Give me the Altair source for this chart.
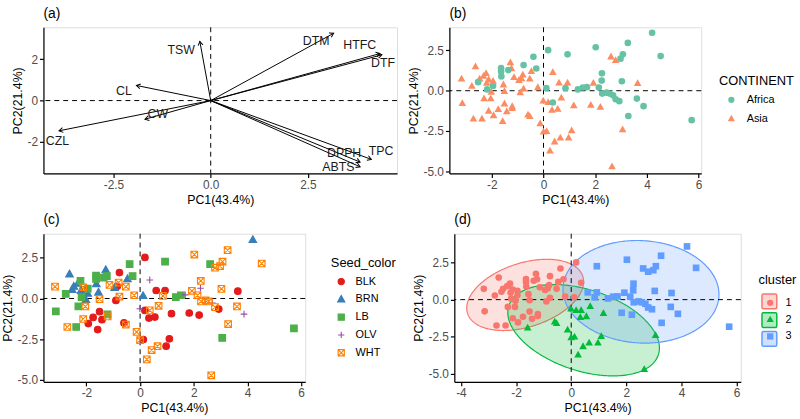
import math
import numpy as np
import pandas as pd
import altair as alt

FONT = "Liberation Sans"
X_TITLE = "PC1(43.4%)"
Y_TITLE = "PC2(21.4%)"

# ---------------- (a) variable loadings ----------------
var_names = ["TSW", "DTM", "HTFC", "DTF", "CL", "CW", "CZL", "TPC", "DPPH", "ABTS"]
var_pc1 = [-0.28, 3.16, 4.35, 4.40, -1.91, -1.69, -3.90, 4.13, 3.84, 3.84]
var_pc2 = [2.86, 3.25, 2.27, 2.21, 0.73, -0.90, -1.46, -2.84, -2.97, -3.20]
lab_pc1 = [-0.76, 2.71, 3.83, 4.43, -2.23, -1.36, -3.94, 4.38, 3.43, 3.28]
lab_pc2 = [2.46, 2.86, 2.67, 1.79, 0.44, -0.63, -1.94, -2.46, -2.54, -3.20]

# ---------------- individual scores ----------------
score_pc1 = [
    0.18, -0.77, -0.85, -0.90, 0.60, 0.93, 3.64, 0.18, 0.33, 0.55, 1.17, 1.83, 2.20, 2.93,
    -1.51, -1.75, -1.42, -1.93, -1.58, -0.60, 0.12, 1.09, 0.97,
    -2.63, -1.28, -0.47, -2.32, -2.47, -2.20, -2.53, -1.55, -2.02, 0.11, 4.20, -0.95, -1.63, -1.95,
    -0.39, 0.93, 2.61, -0.28, -1.24, -1.36, -1.64, -1.64, -2.22, -2.77, -2.18, -2.30, -3.14,
    -2.38, -1.21, 1.33, 1.52, 3.06, 5.73, -1.95,
    0.36, 2.25, 1.68, 2.69, 3.87, -0.01,
    -3.17, -2.71, -2.12, -2.04, -2.12, -1.14, -0.80, -0.53, -0.77, -1.51, -1.21, -0.53, -0.13,
    0.00, -0.22, 0.36, 0.69, 0.85, 0.65, 0.43, 0.25, 2.02, 3.26, 3.07, 2.98, 2.79, 4.53, 2.26,
    1.93, 2.14, 2.27, 2.44, 2.56, 2.79, 3.03, 3.61, 3.28, 2.65,
]
score_pc2 = [
    2.52, 1.59, 0.75, -0.12, 0.49, 0.49, 0.45, -0.73, -1.20, -1.14, -0.93, -0.89, -1.02, -0.65,
    -0.81, -1.16, -1.30, -1.54, -1.91, -1.50, -2.52, -2.48, -2.93,
    1.49, 1.75, 1.20, 0.91, 0.73, 0.47, 0.53, 0.37, -0.08, 0.16, 3.60, 0.65, 0.89, 0.30,
    2.11, 2.26, 2.11, 1.38, 1.38, 1.28, 1.40, 1.20, 1.08, 0.28, 0.08, -0.49, -0.79,
    -1.75, -0.98, 0.08, 0.20, -2.42, -1.83, 0.60,
    1.14, 0.63, 0.22, -0.28, -0.96, -0.63,
    0.73, -1.75, -1.26, -0.49, 0.69, 0.83, 0.98, 0.73, 0.12, -0.04, -1.10, -1.60, -2.05,
    -2.56, 0.20, -0.73, -0.45, 0.16, -2.93, -3.17, -3.74, 2.70, 2.97, 2.26, 1.99, 1.89, 2.15, 1.08,
    0.47, 0.20, -0.18, -0.12, -0.18, -0.53, 0.59, -0.49, -1.57, -4.72,
]
score_seed = (["BLK"] * 23 + ["BRN"] * 14 + ["LB"] * 20 + ["OLV"] * 6 + ["WHT"] * 38)
score_continent = [
    "Africa", "Africa", "Asia", "Asia", "Asia", "Asia", "Asia", "Asia", "Asia", "Asia", "Asia", "Asia", "Asia", "Africa",
    "Asia", "Asia", "Asia", "Asia", "Asia", "Asia", "Asia", "Asia", "Asia",
    "Asia", "Asia", "Asia", "Asia", "Asia", "Asia", "Africa", "Asia", "Asia", "Africa", "Africa", "Asia", "Africa", "Africa",
    "Africa", "Africa", "Asia", "Africa", "Asia", "Africa", "Africa", "Africa", "Asia", "Asia", "Africa", "Asia", "Asia",
    "Asia", "Asia", "Africa", "Africa", "Asia", "Africa", "Asia",
    "Asia", "Africa", "Africa", "Africa", "Africa", "Asia",
    "Asia", "Asia", "Asia", "Asia", "Asia", "Asia", "Asia", "Asia", "Asia", "Asia", "Asia", "Asia", "Asia",
    "Asia", "Asia", "Africa", "Asia", "Africa", "Asia", "Asia", "Asia", "Africa", "Africa", "Africa", "Africa", "Asia", "Africa", "Africa",
    "Asia", "Africa", "Africa", "Africa", "Africa", "Africa", "Africa", "Africa", "Africa", "Asia",
]
score_cluster = [
    "1", "1", "1", "1", "3", "3", "3", "2", "2", "2", "2", "3", "3", "3",
    "1", "1", "1", "1", "2", "2", "2", "2", "2",
    "1", "1", "1", "1", "1", "1", "1", "1", "1", "1", "3", "1", "1", "1",
    "1", "3", "3", "1", "1", "1", "1", "1", "1", "1", "1", "1", "1",
    "1", "1", "3", "3", "2", "3", "1",
    "1", "3", "3", "3", "3", "2",
    "1", "1", "1", "1", "1", "1", "1", "1", "1", "1", "1", "2", "2",
    "2", "1", "2", "2", "3", "2", "2", "2", "3", "3", "3", "3", "3", "3", "3",
    "3", "3", "3", "3", "3", "3", "3", "3", "3", "2",
]

# ---------------- (d) cluster ellipses ----------------
ell_cluster = ["1", "2", "3"]
ell_key = ["ellipse 1", "ellipse 2", "ellipse 3"]
ell_cx = [-1.67, 0.45, 2.53]
ell_cy = [0.32, -2.07, 0.53]
ell_hx = [2.12, 2.75, 2.83]
ell_hy = [2.41, 3.09, 3.47]
ell_cxy = [1.89, -3.30, -0.50]

continent_levels = ["Africa", "Asia"]
continent_colors = ["#66C2A5", "#FC8D62"]
seed_levels = ["BLK", "BRN", "LB", "OLV", "WHT"]
seed_colors = ["#E41A1C", "#377EB8", "#4DAF4A", "#984EA3", "#FF7F00"]
cluster_colors = ["#F8766D", "#00BA38", "#619CFF"]
cluster_key_fill = ["#FED6D3", "#B3EAC3", "#D0E1FF"]

PLUS = "M-1,0H1M0,-1V1"
BOXX = "M-1,-1H1V1H-1ZM-1,-1L1,1M-1,1L1,-1"
TRI = "M0,-1.25L1.15,0.8L-1.15,0.8Z"

# ---------------- data frames ----------------
scores = pd.DataFrame({
    "pc1": score_pc1, "pc2": score_pc2, "seed": score_seed,
    "continent": score_continent, "cluster": score_cluster,
})

A_W, A_H = 358, 148
A_X = [-4.30, 4.79]
A_Y = [-3.52, 3.54]
px_x = A_W / (A_X[1] - A_X[0])
px_y = A_H / (A_Y[1] - A_Y[0])
angles = [math.degrees(math.atan2(x * px_x, y * px_y)) % 360 for x, y in zip(var_pc1, var_pc2)]
loadings = pd.DataFrame({
    "var": var_names, "pc1": var_pc1, "pc2": var_pc2,
    "lx": lab_pc1, "ly": lab_pc2, "angle": angles, "origin": 0.0,
})

area_rows, line_rows = [], []
for c, key, cx, cy, hx, hy, cxy in zip(ell_cluster, ell_key, ell_cx, ell_cy, ell_hx, ell_hy, ell_cxy):
    slope = cxy / hx
    k = math.sqrt(hy ** 2 - slope ** 2)
    for t in np.linspace(0, np.pi, 181):
        area_rows.append({
            "cluster_e": c, "key": key,
            "ex": cx + hx * math.cos(t),
            "yu": cy + slope * math.cos(t) + k * math.sin(t),
            "yl": cy + slope * math.cos(t) - k * math.sin(t),
        })
    for i, t in enumerate(np.linspace(0, 2 * np.pi, 301)):
        line_rows.append({
            "cluster_e": c, "i": i,
            "ex": cx + hx * math.cos(t),
            "ey": cy + slope * math.cos(t) + k * math.sin(t),
        })
ell_area = pd.DataFrame(area_rows)
ell_line = pd.DataFrame(line_rows)

one = pd.DataFrame({"z": [0]})


def lab_expr(fmt):
    return "replace(format(datum.value, '" + fmt + "'), '\u2212', '-')"


def make_axis(title, values, fmt):
    return alt.Axis(
        title=title, values=values, labelExpr=lab_expr(fmt), grid=False,
        domainColor="black", domainWidth=1.2, tickColor="black", tickWidth=1.2, tickSize=4,
        labelColor="#4D4D4D", labelFontSize=12, labelFont=FONT, labelPadding=2,
        titleFont=FONT, titleFontSize=12.5, titleFontWeight="normal", titleColor="black",
        titlePadding=3,
    )


def xenc(field, dom, values, fmt):
    return alt.X(field, type="quantitative",
                 scale=alt.Scale(domain=dom, nice=False, zero=False),
                 axis=make_axis(X_TITLE, values, fmt))


def yenc(field, dom, values, fmt):
    return alt.Y(field, type="quantitative",
                 scale=alt.Scale(domain=dom, nice=False, zero=False),
                 axis=make_axis(Y_TITLE, values, fmt))


def zero_lines():
    h = alt.Chart(one).mark_rule(color="black", strokeDash=[5, 4], strokeWidth=1).encode(y=alt.datum(0))
    v = alt.Chart(one).mark_rule(color="black", strokeDash=[5, 4], strokeWidth=1).encode(x=alt.datum(0))
    return [h, v]


def ptitle(s):
    return alt.TitleParams(s, anchor="start", frame="group", fontSize=14, fontWeight="normal",
                           font=FONT, color="black", offset=6)


def legend(title, lx, ly, **kw):
    base = dict(title=title, orient="none", legendX=lx, legendY=ly, padding=0,
                titleFont=FONT, titleFontSize=13, titleFontWeight="normal", titleColor="black",
                labelFont=FONT, labelFontSize=11, labelColor="black")
    base.update(kw)
    return alt.Legend(**base)


INDEP = dict(color="independent", shape="independent", fill="independent", stroke="independent")
PT_SIZE = 45

# ---------------- panel (a) ----------------
ax_vals = [-2.5, 0.0, 2.5]
ay_vals = [-2, 0, 2]
arrows = alt.Chart(loadings).mark_rule(color="black", strokeWidth=1).encode(
    x=xenc("origin", A_X, ax_vals, ".1f"), y=yenc("origin", A_Y, ay_vals, "d"),
    x2="pc1:Q", y2="pc2:Q",
)
heads = alt.Chart(loadings).mark_point(
    shape="M-0.6,1L0,0L0.6,1", filled=False, size=64, color="black", strokeWidth=1, opacity=1
).encode(
    x=xenc("pc1", A_X, ax_vals, ".1f"), y=yenc("pc2", A_Y, ay_vals, "d"),
    angle=alt.Angle("angle:Q", scale=None),
)
labels = alt.Chart(loadings).mark_text(font=FONT, fontSize=12.5, color="#1A1A1A").encode(
    x=xenc("lx", A_X, ax_vals, ".1f"), y=yenc("ly", A_Y, ay_vals, "d"), text="var:N",
)
panel_a = alt.layer(*zero_lines(), arrows, heads, labels).properties(
    width=A_W, height=A_H, title=ptitle("(a)"))

# ---------------- panel (b) ----------------
B_X = [-3.64, 6.10]
B_Y = [-5.14, 3.94]
bx_vals = [-2, 0, 2, 4, 6]
by_vals = [-5.0, -2.5, 0.0, 2.5]
leg_b = legend("CONTINENT", 273, 48, symbolSize=40, symbolOffset=7, labelOffset=10,
               rowPadding=7, titlePadding=7)
pts_b = alt.Chart(scores).mark_point(filled=True, size=PT_SIZE, opacity=1).encode(
    x=xenc("pc1", B_X, bx_vals, "d"), y=yenc("pc2", B_Y, by_vals, ".1f"),
    color=alt.Color("continent:N", scale=alt.Scale(domain=continent_levels, range=continent_colors), legend=leg_b),
    shape=alt.Shape("continent:N", scale=alt.Scale(domain=continent_levels, range=["circle", TRI]), legend=leg_b),
)
panel_b = alt.layer(*zero_lines(), pts_b).properties(width=255, height=148, title=ptitle("(b)"))

# ---------------- panel (c) ----------------
C_X = [-3.60, 6.15]
C_Y = [-5.12, 3.98]
leg_c = legend("Seed_color", 291, 24, symbolSize=40, symbolOffset=5, labelOffset=9,
               rowPadding=6, titlePadding=6, symbolStrokeWidth=1.1)
pts_c = alt.Chart(scores).mark_point(filled=False, size=PT_SIZE, opacity=1, strokeWidth=1.1).encode(
    x=xenc("pc1", C_X, bx_vals, "d"), y=yenc("pc2", C_Y, by_vals, ".1f"),
    fill=alt.Fill("seed:N", scale=alt.Scale(domain=seed_levels, range=seed_colors[:3] + ["transparent", "transparent"]), legend=leg_c),
    stroke=alt.Stroke("seed:N", scale=alt.Scale(domain=seed_levels, range=seed_colors), legend=leg_c),
    shape=alt.Shape("seed:N", scale=alt.Scale(domain=seed_levels, range=["circle", TRI, "square", PLUS, BOXX]), legend=leg_c),
)
panel_c = alt.layer(*zero_lines(), pts_c).properties(width=265, height=150, title=ptitle("(c)"))

# ---------------- panel (d) ----------------
D_X = [-4.24, 6.15]
D_Y = [-5.56, 4.46]
dx_vals = [-4, -2, 0, 2, 4, 6]
ROUND_SQ = "M-0.8,-1H0.8Q1,-1 1,-0.8V0.8Q1,1 0.8,1H-0.8Q-1,1 -1,0.8V-0.8Q-1,-1 -0.8,-1Z"
leg_box = legend("cluster", 308, 41, symbolSize=225, symbolType=ROUND_SQ, symbolOffset=2.5,
                 labelOffset=8, rowPadding=-4.5, titlePadding=6, labelExpr="''",
                 symbolStrokeWidth=1.5, zindex=1)
leg_pts = legend(" ", 308, 41, symbolSize=40, symbolOffset=6.3, labelOffset=10,
                 rowPadding=5, titlePadding=10.5, zindex=2)

ell_layers = []
for c, col in zip(ell_cluster, cluster_colors):
    ell_layers.append(
        alt.Chart(ell_area).transform_filter(alt.datum.cluster_e == c).mark_area(
            color=col, fillOpacity=0.22).encode(
            x=xenc("ex", D_X, dx_vals, "d"), y=yenc("yu", D_Y, by_vals, ".1f"), y2="yl:Q")
    )
    ell_layers.append(
        alt.Chart(ell_line).transform_filter(alt.datum.cluster_e == c).mark_line(
            color=col, strokeWidth=1.2).encode(
            x=xenc("ex", D_X, dx_vals, "d"), y=yenc("ey", D_Y, by_vals, ".1f"), order="i:Q")
    )
ell_key_layer = alt.Chart(ell_area).transform_filter("false").mark_area().encode(
    x=xenc("ex", D_X, dx_vals, "d"), y=yenc("yu", D_Y, by_vals, ".1f"), y2="yl:Q",
    fill=alt.Fill("key:N", scale=alt.Scale(domain=ell_key, range=cluster_key_fill), legend=leg_box),
    stroke=alt.Stroke("key:N", scale=alt.Scale(domain=ell_key, range=cluster_colors), legend=leg_box),
)
pts_d = alt.Chart(scores).mark_point(filled=True, size=PT_SIZE, opacity=1).encode(
    x=xenc("pc1", D_X, dx_vals, "d"), y=yenc("pc2", D_Y, by_vals, ".1f"),
    color=alt.Color("cluster:N", scale=alt.Scale(domain=ell_cluster, range=cluster_colors), legend=leg_pts),
    shape=alt.Shape("cluster:N", scale=alt.Scale(domain=ell_cluster, range=["circle", TRI, "square"]), legend=leg_pts),
)
panel_d = alt.layer(*ell_layers, ell_key_layer, *zero_lines(), pts_d).properties(
    width=290, height=150, title=ptitle("(d)"))

row1 = alt.hconcat(panel_a, panel_b, spacing=8).resolve_scale(**INDEP).resolve_legend(**INDEP)
row2 = alt.hconcat(panel_c, panel_d, spacing=14).resolve_scale(**INDEP).resolve_legend(**INDEP)
chart = alt.vconcat(row1, row2, spacing=7).resolve_scale(**INDEP).resolve_legend(**INDEP).properties(
    padding={"left": 0, "top": 4, "right": 2, "bottom": 2}
).configure_view(strokeWidth=0).configure(font=FONT)

chart.save("out.html", embed_options={"renderer": "svg", "actions": False})
